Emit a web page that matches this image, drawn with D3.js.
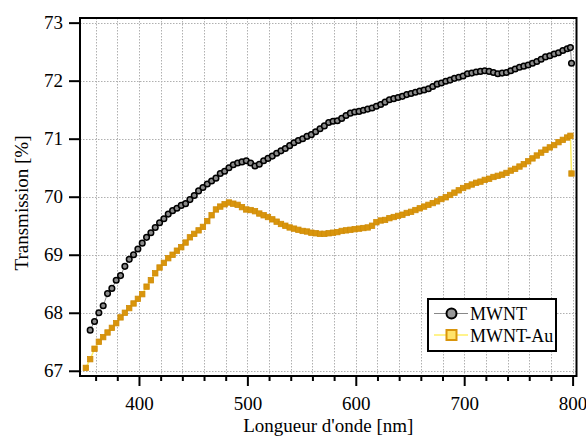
<!DOCTYPE html>
<html><head><meta charset="utf-8">
<script src="https://cdn.jsdelivr.net/npm/d3@7"></script>
<style>
html,body{margin:0;padding:0;background:#fff;}
svg{display:block;font-family:"Liberation Serif","Times New Roman",serif;}
</style></head>
<body><svg id="c" width="586" height="436"></svg>
<script>
const mwntX = [355,359,363,367,371,375,379,383,387,391,395,399,403,407,411,415,419,423,427,431,435,439,443,447,451,455,459,463,467,471,475,479,483,487,491,495,499,503,507,511,515,519,523,527,531,535,539,543,547,551,555,559,563,567,571,575,579,583,587,591,595,599,603,607,611,615,619,623,627,631,635,639,643,647,651,655,659,663,667,671,675,679,683,687,691,695,699,703,707,711,715,719,723,727,731,735,739,743,747,751,755,759,763,767,771,775,779,783,787,791,795,798,799];
const mwntY = [67.70,67.85,68.00,68.12,68.33,68.42,68.56,68.64,68.80,68.92,69.00,69.10,69.20,69.30,69.38,69.47,69.55,69.62,69.70,69.76,69.80,69.85,69.88,69.95,70.02,70.10,70.16,70.22,70.27,70.32,70.40,70.44,70.50,70.55,70.58,70.60,70.62,70.58,70.53,70.56,70.62,70.66,70.70,70.75,70.79,70.83,70.88,70.93,70.97,71.00,71.04,71.07,71.12,71.17,71.22,71.28,71.30,71.31,71.35,71.40,71.44,71.46,71.47,71.49,71.51,71.53,71.56,71.59,71.63,71.67,71.69,71.71,71.73,71.76,71.78,71.80,71.82,71.84,71.86,71.90,71.94,71.96,71.99,72.01,72.04,72.06,72.08,72.12,72.13,72.15,72.16,72.17,72.16,72.14,72.12,72.13,72.14,72.17,72.20,72.23,72.25,72.27,72.30,72.33,72.37,72.41,72.43,72.46,72.48,72.52,72.55,72.57,72.30];
const auX = [351,355,359,363,367,371,375,379,383,387,391,395,399,403,407,411,415,419,423,427,431,435,439,443,447,451,455,459,463,467,471,475,479,483,487,491,495,499,503,507,511,515,519,523,527,531,535,539,543,547,551,555,559,563,567,571,575,579,583,587,591,595,599,603,607,611,615,619,623,627,631,635,639,643,647,651,655,659,663,667,671,675,679,683,687,691,695,699,703,707,711,715,719,723,727,731,735,739,743,747,751,755,759,763,767,771,775,779,783,787,791,795,798,799];
const auY = [67.05,67.20,67.38,67.50,67.58,67.66,67.74,67.82,67.92,68.00,68.08,68.16,68.24,68.32,68.45,68.56,68.68,68.78,68.86,68.94,69.00,69.07,69.13,69.21,69.30,69.36,69.42,69.48,69.58,69.68,69.78,69.83,69.87,69.90,69.88,69.86,69.82,69.78,69.77,69.75,69.71,69.68,69.65,69.61,69.57,69.53,69.50,69.47,69.45,69.43,69.41,69.40,69.38,69.37,69.36,69.36,69.37,69.38,69.39,69.41,69.42,69.43,69.44,69.45,69.46,69.47,69.50,69.56,69.59,69.60,69.63,69.65,69.67,69.69,69.72,69.74,69.77,69.80,69.83,69.86,69.89,69.92,69.96,69.99,70.03,70.07,70.11,70.15,70.18,70.21,70.24,70.26,70.29,70.31,70.34,70.36,70.38,70.41,70.45,70.48,70.52,70.56,70.61,70.66,70.71,70.76,70.81,70.85,70.89,70.94,70.98,71.02,71.05,70.40];
const xMajor = [400,500,600,700,800];
const xMinor = [360,380,420,440,460,480,520,540,560,580,620,640,660,680,720,740,760,780];
const yTicks = [67,68,69,70,71,72,73];
const seriesNames = ["MWNT","MWNT-Au"];

const svg = d3.select("#c");
const L=80, R=576.5, T=18, B=376;
const x = d3.scaleLinear().domain([345.6,803.6]).range([L,R]);
const y = d3.scaleLinear().domain([66.91,73.08]).range([B,T]);

// grid
const grid = svg.append("g").attr("stroke","#b0b0b0").attr("stroke-width",1).attr("stroke-dasharray","1.5,1.5");
xMajor.concat(xMinor).forEach(v=>grid.append("line").attr("x1",Math.round(x(v))+0.5).attr("x2",Math.round(x(v))+0.5).attr("y1",T).attr("y2",B));
yTicks.forEach(v=>grid.append("line").attr("y1",Math.round(y(v))+0.5).attr("y2",Math.round(y(v))+0.5).attr("x1",L).attr("x2",R));

// axes
const gx = svg.append("g").attr("transform",`translate(0,${B})`);
gx.call(d3.axisBottom(x).tickValues(xMinor).tickSize(5).tickFormat(""));
const gx2 = svg.append("g").attr("transform",`translate(0,${B})`);
gx2.call(d3.axisBottom(x).tickValues(xMajor).tickSize(10).tickPadding(11).tickFormat(d3.format("d")));
const gy = svg.append("g").attr("transform",`translate(${L},0)`);
gy.call(d3.axisLeft(y).tickValues(yTicks).tickSize(11).tickPadding(6).tickFormat(d3.format("d")));
[gx,gx2,gy].forEach(g=>{g.select(".domain").remove();g.selectAll(".tick line").attr("stroke","#000").attr("stroke-width",2);
  g.selectAll("text").attr("fill","#000").style("font-size","19px").style("font-family","'Liberation Serif',serif");});

// data
const lineGen = d3.line().x(d=>x(d[0])).y(d=>y(d[1]));
const mw = mwntX.map((v,i)=>[v,mwntY[i]]);
const au = auX.map((v,i)=>[v,auY[i]]);
const plot = svg.append("g");
plot.append("path").datum(au).attr("d",lineGen).attr("fill","none").attr("stroke","#ffef66").attr("stroke-width",1.5);
plot.selectAll("rect.au").data(au).enter().append("rect").attr("class","au")
  .attr("x",d=>x(d[0])-2.7).attr("y",d=>y(d[1])-2.7).attr("width",5.4).attr("height",5.4)
  .attr("fill","#d9950c").attr("stroke","#cf8c08").attr("stroke-width",0.8);
plot.append("path").datum(mw).attr("d",lineGen).attr("fill","none").attr("stroke","#888").attr("stroke-width",1);
plot.selectAll("circle.mw").data(mw).enter().append("circle").attr("class","mw")
  .attr("cx",d=>x(d[0])).attr("cy",d=>y(d[1])).attr("r",2.8)
  .attr("fill","#8a8a8a").attr("stroke","#000").attr("stroke-width",1.5);

// frame
svg.append("rect").attr("x",L).attr("y",T).attr("width",R-L).attr("height",B-T)
  .attr("fill","none").attr("stroke","#000").attr("stroke-width",2);

// titles
svg.append("text").attr("x",(L+R)/2).attr("y",432).attr("text-anchor","middle")
  .style("font-size","19px").text("Longueur d'onde [nm]");
svg.append("text").attr("transform","translate(28,203) rotate(-90)").attr("text-anchor","middle")
  .style("font-size","19px").text("Transmission [%]");

// legend
const lg = svg.append("g");
lg.append("rect").attr("x",428).attr("y",299).attr("width",128).attr("height",52)
  .attr("fill","#fff").attr("stroke","#000").attr("stroke-width",2);
lg.append("line").attr("x1",434).attr("x2",468).attr("y1",313.5).attr("y2",313.5).attr("stroke","#888").attr("stroke-width",1.2);
lg.append("circle").attr("cx",451.5).attr("cy",313.5).attr("r",5).attr("fill","#999").attr("stroke","#000").attr("stroke-width",2);
lg.append("line").attr("x1",434).attr("x2",468).attr("y1",335).attr("y2",335).attr("stroke","#ffef66").attr("stroke-width",1.5);
lg.append("rect").attr("x",446.5).attr("y",330).attr("width",10).attr("height",10).attr("fill","#ffe36a").attr("stroke","#d9950c").attr("stroke-width",2);
lg.append("text").attr("x",470).attr("y",320).style("font-size","18px").text(seriesNames[0]);
lg.append("text").attr("x",470).attr("y",341.5).style("font-size","18px").text(seriesNames[1]);
</script></body></html>
